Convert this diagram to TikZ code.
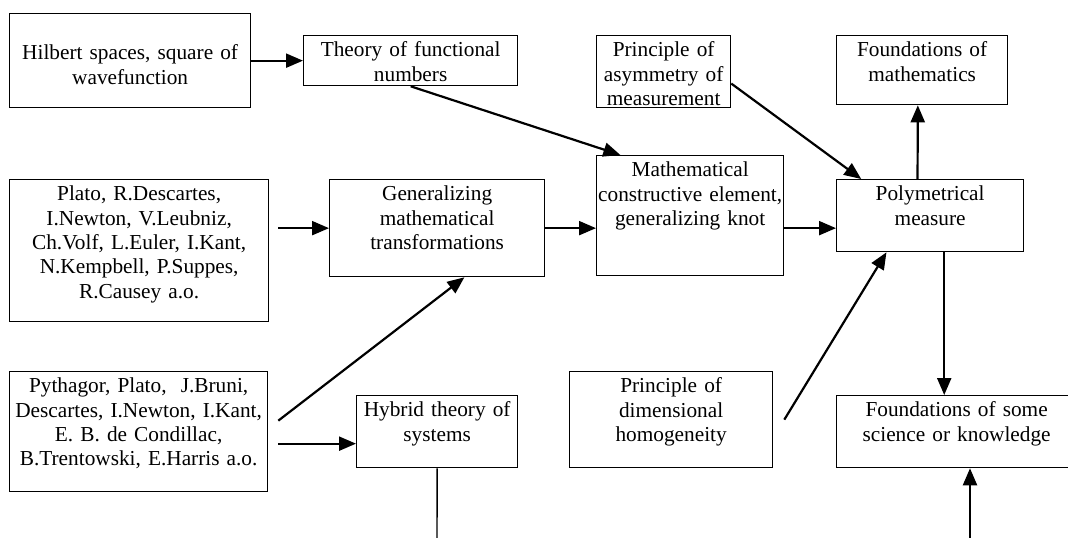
\documentclass[tikz,border=0pt]{standalone}
\usepackage{fontspec}
\setmainfont{Liberation Serif}
\usetikzlibrary{arrows.meta}
\newcommand\boxfont{\fontsize{21.3pt}{24.4pt}\selectfont}
\tikzstyle{block}=[draw,line width=1.3pt,anchor=north west,inner sep=0pt,align=center,text height=21pt,font=\boxfont]
\tikzstyle{link}=[draw,line width=2.2pt,-{Triangle[length=17pt,width=14pt]}]
\tikzstyle{plain}=[draw,line width=1.4pt]

\begin{document}
\begin{tikzpicture}[x=1pt,y=-1pt]
    \useasboundingbox (0,0) rectangle (1068,538);
    \clip (0,0) rectangle (1068,538);
    % First we draw the boxes, top row
    \node[block,text width=241pt,text height=46pt,text depth=48pt] (hilb) at (9,13) {Hilbert spaces, square of\\wavefunction};
    \node[block,text width=214pt,text depth=29pt] (theory) at (303,35) {Theory of functional\\numbers};
    \node[block,text width=134pt,text depth=51pt] (asym) at (596,35) {Principle of\\asymmetry of\\measurement};
    \node[block,text width=171pt,text depth=48pt] (fmath) at (836,35) {Foundations of\\mathematics};
    % middle row
    \node[block,text width=259pt,text depth=121pt] (plato) at (9,179) {Plato, R.Descartes,\\I.Newton, V.Leubniz,\\Ch.Volf, L.Euler, I.Kant,\\N.Kempbell, P.Suppes,\\R.Causey a.o.};
    \node[block,text width=215pt,text depth=76pt] (gen) at (329,179) {Generalizing\\mathematical\\transformations};
    \node[block,text width=187pt,text depth=99pt] (math) at (596,155) {Mathematical\\constructive element,\\generalizing knot};
    \node[block,text width=187pt,text depth=51pt] (poly) at (836,179) {Polymetrical\\measure};
    % bottom row
    \node[block,text width=258pt,text depth=99pt] (pyth) at (9,371) {Pythagor, Plato, \ J.Bruni,\\Descartes, I.Newton, I.Kant,\\E. B. de Condillac,\\B.Trentowski, E.Harris a.o.};
    \node[block,text width=161pt,text depth=51pt] (hyb) at (356,395) {Hybrid theory of\\systems};
    \node[block,text width=203pt,text depth=75pt] (dim) at (569,371) {Principle of\\dimensional\\homogeneity};
    \node[block,text width=240pt,text depth=51pt] (fsome) at (836,395) {Foundations of some\\science or knowledge};
    % free ends at the lower edge
    \coordinate (hybout) at (437,538);
    \coordinate (knowin) at (970,538);
    % Connect the boxes with arrows
    \path[link] (hilb.east) -- (hilb.east -| theory.west);
    \path[link] (theory.south) -- (math.139);
    \path[link] (asym.-10) -- (poly.152);
    \path[link] (poly.109) -- (fmath.-97);
    \path[link,shorten <=9pt] (plato.east |- gen.west) -- (gen.west);
    \path[link] (gen.east) -- (gen.east -| math.west);
    \path[link] (gen.east -| math.east) -- (gen.east -| poly.west);
    \path[link] ([xshift=10pt,yshift=11pt]pyth.east) -- (gen.-61);
    \path[link,shorten <=10pt] ([yshift=-12pt]pyth.east) -- ([yshift=-12pt]pyth.east -| hyb.west);
    \path[link] ([xshift=11pt]dim.east) -- (poly.-140);
    \path[link] (poly.-69) -- (poly.-69 |- fsome.north);
    \path[link] (knowin) -- (knowin |- fsome.south);
    \path[plain] (hyb.south) -- (hybout);
\end{tikzpicture}
\end{document}
